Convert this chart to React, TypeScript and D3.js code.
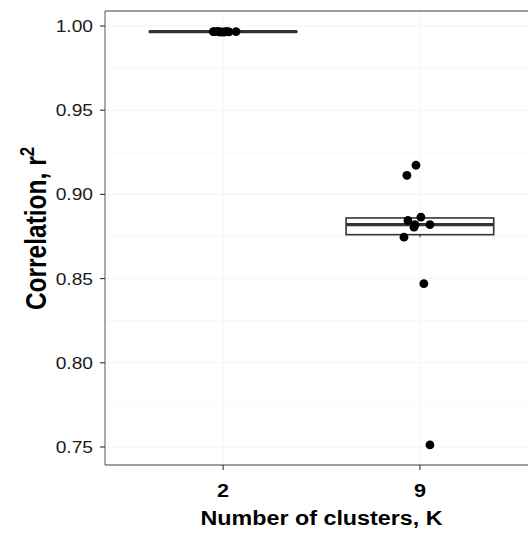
import React from 'react';
import * as d3 from 'd3';

const categories = ['2', '9'];
const r2K2 = [0.9967, 0.9966, 0.9968, 0.9964, 0.9965, 0.9963, 0.9966, 0.9967, 0.9965, 0.9967];
const jitterK2 = [-0.05, -0.04, -0.025, -0.015, -0.005, 0.005, 0.015, 0.02, 0.03, 0.066];
const r2K9 = [0.9173, 0.9113, 0.8865, 0.8845, 0.8821, 0.8821, 0.8805, 0.8746, 0.847, 0.7512];
const jitterK9 = [-0.02, -0.066, 0.005, -0.061, -0.025, 0.051, -0.03, -0.081, 0.02, 0.051];
const yTicks = [0.75, 0.8, 0.85, 0.9, 0.95, 1.0];
const yMinor = [0.775, 0.825, 0.875, 0.925, 0.975];

const groups = [
  { key: categories[0], values: r2K2, jitter: jitterK2 },
  { key: categories[1], values: r2K9, jitter: jitterK9 },
];

const boxStats = (vals: number[]) => {
  const s = [...vals].sort(d3.ascending);
  const q1 = d3.quantile(s, 0.25) as number;
  const med = d3.quantile(s, 0.5) as number;
  const q3 = d3.quantile(s, 0.75) as number;
  const iqr = q3 - q1;
  const lo = d3.min(s.filter((v) => v >= q1 - 1.5 * iqr)) as number;
  const hi = d3.max(s.filter((v) => v <= q3 + 1.5 * iqr)) as number;
  return { q1, med, q3, lo, hi };
};

const font = '"Liberation Sans", Arial, Helvetica, sans-serif';
// the original picture is a little wider than tall, so glyphs get stretched sideways
const stretch = 1.2;

export default function App() {
  const width = 528;
  const height = 533;
  const panel = { left: 105, top: 11, right: 538, bottom: 465 };

  const x = d3.scalePoint<string>()
    .domain(categories)
    .range([panel.left, panel.right])
    .padding(0.6);
  const step = x.step();
  const boxW = step * 0.75;

  const y = d3.scaleLinear()
    .domain([0.7393, 1.0089])
    .range([panel.bottom, panel.top]);

  return (
    <svg width={width} height={height} style={{ position: 'absolute', left: 0, top: 0, background: '#fff' }}>
      <rect x={panel.left} y={panel.top} width={panel.right - panel.left} height={panel.bottom - panel.top} fill="#fff" />
      {yMinor.map((t) => (
        <line key={`m${t}`} x1={panel.left} x2={panel.right} y1={y(t)} y2={y(t)} stroke="#f5f5f5" strokeWidth={0.8} />
      ))}
      {yTicks.map((t) => (
        <line key={`g${t}`} x1={panel.left} x2={panel.right} y1={y(t)} y2={y(t)} stroke="#f3f3f3" strokeWidth={1} />
      ))}
      {categories.map((c) => (
        <line key={`gx${c}`} x1={x(c)} x2={x(c)} y1={panel.top} y2={panel.bottom} stroke="#f5f5f5" strokeWidth={1} />
      ))}

      {groups.map((g) => {
        const st = boxStats(g.values);
        const cx = x(g.key) as number;
        return (
          <g key={g.key}>
            <line x1={cx} x2={cx} y1={y(st.hi)} y2={y(st.q3)} stroke="#333" strokeWidth={1.2} />
            <line x1={cx} x2={cx} y1={y(st.q1)} y2={y(st.lo)} stroke="#333" strokeWidth={1.2} />
            <rect
              x={cx - boxW / 2}
              y={y(st.q3)}
              width={boxW}
              height={Math.max(0.01, y(st.q1) - y(st.q3))}
              fill="#fff"
              stroke="#333"
              strokeWidth={1.6}
            />
            <line x1={cx - boxW / 2} x2={cx + boxW / 2} y1={y(st.med)} y2={y(st.med)} stroke="#333" strokeWidth={3.2} />
            {g.values.map((v, i) => (
              <circle key={i} cx={cx + g.jitter[i] * step} cy={y(v)} r={4.4} fill="#000" />
            ))}
          </g>
        );
      })}

      <line x1={panel.left} x2={panel.right} y1={panel.top} y2={panel.top} stroke="#7f7f7f" strokeWidth={1.3} />
      <line x1={panel.left} x2={panel.right} y1={panel.bottom} y2={panel.bottom} stroke="#7f7f7f" strokeWidth={1.3} />
      <line x1={panel.left} x2={panel.left} y1={panel.top} y2={panel.bottom} stroke="#7f7f7f" strokeWidth={1.3} />

      {yTicks.map((t) => (
        <g key={`t${t}`} transform={`translate(0,${y(t)})`}>
          <line x1={panel.left - 5} x2={panel.left} stroke="#333" strokeWidth={1.1} />
          <text
            transform={`translate(${panel.left - 12},6) scale(${stretch},1)`}
            textAnchor="end"
            fontFamily={font}
            fontSize={16}
            fill="#1a1a1a"
          >
            {t.toFixed(2)}
          </text>
        </g>
      ))}
      {categories.map((c) => (
        <g key={`xt${c}`} transform={`translate(${x(c)},${panel.bottom})`}>
          <line y1={0} y2={5} stroke="#333" strokeWidth={1.1} />
          <text
            transform={`translate(0,32) scale(${stretch},1)`}
            textAnchor="middle"
            fontFamily={font}
            fontSize={18}
            fontWeight="bold"
            fill="#000"
          >
            {c}
          </text>
        </g>
      ))}

      <text
        transform={`translate(${(panel.left + panel.right) / 2},525) scale(1.11,1)`}
        textAnchor="middle"
        fontFamily={font}
        fontSize={21}
        fontWeight="bold"
        fill="#000"
      >
        Number of clusters, K
      </text>
      <text
        transform={`translate(46,228.5) rotate(-90) scale(1,${stretch})`}
        textAnchor="middle"
        fontFamily={font}
        fontSize={24.5}
        fontWeight="bold"
        fill="#000"
      >
        Correlation, r
        <tspan fontSize={17} dy={-10}>2</tspan>
      </text>
    </svg>
  );
}
